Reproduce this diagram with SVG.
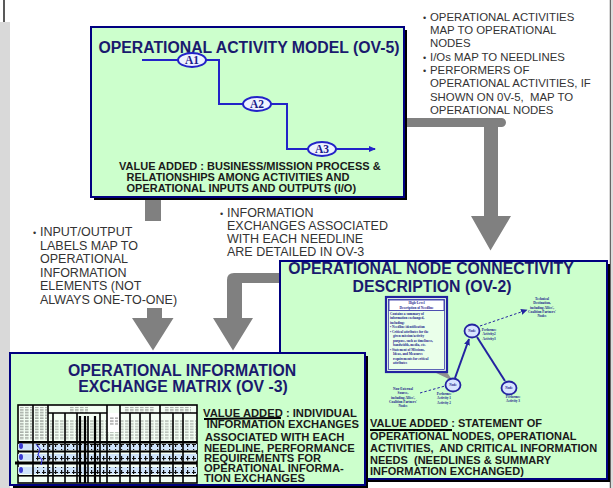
<svg xmlns="http://www.w3.org/2000/svg" width="613" height="488" viewBox="0 0 613 488">
<defs>
<style>
.box{fill:#ccffcc;stroke:#000080;stroke-width:2}
.shadow{fill:#000}
.title{font-family:"Liberation Sans",Arial,sans-serif;font-weight:bold;font-size:15.8px;fill:#1a1a6e;text-anchor:middle}
.va{font-family:"Liberation Sans",Arial,sans-serif;font-weight:bold;font-size:11px;fill:#1a1a1a;white-space:pre}
.va3{font-family:"Liberation Sans",Arial,sans-serif;font-weight:bold;font-size:10.2px;fill:#1a1a1a}
.note{font-family:"Liberation Sans",Arial,sans-serif;font-size:12.5px;fill:#333}
.note2{font-family:"Liberation Sans",Arial,sans-serif;font-size:11.4px;fill:#333;white-space:pre}
.bul{font-size:9px}
.gray{fill:#808080}
.flow{stroke:#2323c8;stroke-width:2;fill:none}
.act{fill:#eef2ff;stroke:#2323c8;stroke-width:2}
.actt{font-family:"Liberation Serif","Times New Roman",serif;font-weight:bold;font-size:11.5px;fill:#1a1a8a;text-anchor:middle}
.tiny{font-family:"Liberation Serif","Times New Roman",serif;font-weight:bold;font-size:3.4px;fill:#1a1a8a}
.tinyc{font-family:"Liberation Serif","Times New Roman",serif;font-weight:bold;font-size:3.4px;fill:#1a1a8a;text-anchor:middle}
.node{fill:#d8e4ff;stroke:#2323a0;stroke-width:1.8}
.need{stroke:#2323a0;stroke-width:2;fill:none}
.dash{stroke:#2323a0;stroke-width:1;stroke-dasharray:2.5,2;fill:none}
.ul{stroke:#000;stroke-width:2}
.col{stroke:#000;stroke-width:1.6}
</style>
<marker id="fa" markerWidth="8" markerHeight="8" refX="6" refY="4" orient="auto" markerUnits="userSpaceOnUse"><path d="M0,1 L7,4 L0,7 Z" fill="#2323c8"/></marker>
<marker id="na" markerWidth="7" markerHeight="7" refX="6" refY="3.5" orient="auto" markerUnits="userSpaceOnUse"><path d="M0,0.5 L6.5,3.5 L0,6.5 Z" fill="#2323a0"/></marker>
<pattern id="tx" width="5" height="2.8" patternUnits="userSpaceOnUse"><rect x="0" y="0.5" width="3.6" height="1" fill="#222"/></pattern>
<pattern id="rw" width="6" height="7" patternUnits="userSpaceOnUse"><rect x="1" y="1" width="1.2" height="5" fill="#111"/><rect x="0" y="3" width="4" height="1" fill="#111"/></pattern>
</defs>
<rect x="0" y="0" width="613" height="488" fill="#fff"/>
<rect x="0" y="22" width="10" height="466" fill="#d9d9d9"/>
<line x1="4" y1="0" x2="4" y2="22" stroke="#222" stroke-width="1.5"/>
<line x1="610.5" y1="0" x2="610.5" y2="488" stroke="#666" stroke-width="1.5"/>
<rect x="611.2" y="0" width="2" height="488" fill="#ddd"/>

<g id="connectors">
<path class="gray" d="M404,118 L501.5,118 A4.5,4.5 0 0 1 501.5,127 L498,127 L498,216 L511,216 L490.5,250.5 L471,216 L484,216 L484,127 L404,127 Z"/>
<rect class="gray" x="145" y="198" width="16" height="23"/>
<path class="gray" d="M147,308 L162,308 L162,318 L173.5,318 L153,350.5 L132,318 L147,318 Z"/>
<path class="gray" d="M284,273 L234,273 Q227,273 227,280 L227,318 L213,318 L233,350.5 L253,318 L242,318 L242,283 L284,283 Z"/>
</g>

<g id="ov5">
<rect class="shadow" x="94" y="30" width="313" height="170"/>
<rect class="box" x="91" y="27" width="313" height="170"/>
<text class="title" x="249" y="52.5">OPERATIONAL ACTIVITY MODEL (OV-5)</text>
<path class="flow" d="M142,60 L178,60"/>
<path class="flow" d="M206,60 L219,60 L219,104 L243,104"/>
<path class="flow" d="M271,104 L287,104 L287,149 L308,149"/>
<path class="flow" d="M336,149 L375,149" marker-end="url(#fa)"/>
<ellipse class="act" cx="192" cy="60" rx="14" ry="7"/>
<text class="actt" x="192" y="64">A1</text>
<ellipse class="act" cx="257" cy="104" rx="14" ry="7"/>
<text class="actt" x="257" y="108">A2</text>
<ellipse class="act" cx="322" cy="149" rx="14" ry="7"/>
<text class="actt" x="322" y="153">A3</text>
<text class="va" x="119" y="170">VALUE ADDED : BUSINESS/MISSION PROCESS &amp;</text>
<text class="va" x="126.5" y="181">RELATIONSHIPS AMONG ACTIVITIES AND</text>
<text class="va" x="126.5" y="192">OPERATIONAL INPUTS AND OUTPUTS (I/O)</text>
</g>

<g id="note-ov5-ov2">
<text class="note2" x="423" y="20.7"><tspan class="bul">•</tspan><tspan x="430">OPERATIONAL ACTIVITIES</tspan></text>
<text class="note2" x="430" y="34">MAP TO OPERATIONAL</text>
<text class="note2" x="430" y="47.3">NODES</text>
<text class="note2" x="423" y="60.6"><tspan class="bul">•</tspan><tspan x="430">I/Os MAP TO NEEDLINES</tspan></text>
<text class="note2" x="423" y="74"><tspan class="bul">•</tspan><tspan x="430">PERFORMERS OF</tspan></text>
<text class="note2" x="430" y="87.3">OPERATIONAL ACTIVITIES, IF</text>
<text class="note2" x="430" y="100.6">SHOWN ON 0V-5,  MAP TO</text>
<text class="note2" x="430" y="114">OPERATIONAL NODES</text>
</g>

<g id="note-ov5-ov3">
<text class="note" x="33" y="236"><tspan class="bul">•</tspan><tspan x="40">INPUT/OUTPUT</tspan></text>
<text class="note" x="40" y="249.6">LABELS MAP TO</text>
<text class="note" x="40" y="263.2">OPERATIONAL</text>
<text class="note" x="40" y="276.8">INFORMATION</text>
<text class="note" x="40" y="290.4">ELEMENTS (NOT</text>
<text class="note" x="40" y="304">ALWAYS ONE-TO-ONE)</text>
</g>

<g id="note-ov2-ov3">
<text class="note" x="220" y="216.7"><tspan class="bul">•</tspan><tspan x="227">INFORMATION</tspan></text>
<text class="note" x="227" y="229.8">EXCHANGES ASSOCIATED</text>
<text class="note" x="227" y="242.9">WITH EACH NEEDLINE</text>
<text class="note" x="227" y="256">ARE DETAILED IN OV-3</text>
</g>

<g id="ov2">
<rect class="shadow" x="283" y="264" width="327" height="218"/>
<rect class="box" x="280" y="261" width="327" height="218"/>
<text class="title" x="431" y="274">OPERATIONAL NODE CONNECTIVITY</text>
<text class="title" x="432" y="292">DESCRIPTION (OV-2)</text>
<g id="ov2-needline-box">
<polygon points="432,371 446,371 453,381" fill="#909090"/>
<rect x="386" y="297" width="61" height="75" fill="#eaffea" stroke="#2323a0" stroke-width="2.2"/>
<rect x="388.5" y="299.5" width="56" height="70" fill="none" stroke="#2323a0" stroke-width="0.7"/>
<rect x="389" y="300" width="55" height="10.5" fill="#fff" stroke="#2323a0" stroke-width="0.8"/>
<text class="tinyc" x="416.5" y="304.3">High-Level</text>
<text class="tinyc" x="416.5" y="309">Description of Needline</text>
<text class="tiny" x="390" y="314.5">Contains a summary of</text>
<text class="tiny" x="390" y="319">information exchanged,</text>
<text class="tiny" x="390" y="323.5">including:</text>
<text class="tiny" x="390" y="328">• Needline identification</text>
<text class="tiny" x="390" y="332.5">• Critical attributes for the</text>
<text class="tiny" x="393" y="337">given mission/activity</text>
<text class="tiny" x="393" y="341.5">purpose, such as timeliness,</text>
<text class="tiny" x="393" y="346">bandwidth, media, etc.</text>
<text class="tiny" x="390" y="350.5">• Statement of Missions,</text>
<text class="tiny" x="393" y="355">Ideas, and Measures</text>
<text class="tiny" x="393" y="359.5">requirements for critical</text>
<text class="tiny" x="393" y="364">attributes</text>
</g>
<path class="need" d="M455,378 L469,339" marker-end="url(#na)"/>
<path class="need" d="M477,337 L505,381"/>
<path class="dash" d="M420,393 L445,386"/>
<path class="dash" d="M480,326 L527,310" marker-end="url(#na)"/>
<g id="node-a"><ellipse class="node" cx="472" cy="331" rx="7.5" ry="6.5"/><text class="tinyc" x="472" y="332">Node</text></g>
<g id="node-b"><ellipse class="node" cx="453" cy="385" rx="7.5" ry="6.5"/><text class="tinyc" x="453" y="386">Node</text></g>
<g id="node-c"><ellipse class="node" cx="509" cy="388" rx="7.5" ry="6.5"/><text class="tinyc" x="509" y="389">Node</text></g>
<text class="tinyc" x="542" y="300">Technical</text>
<text class="tinyc" x="542" y="304.3">Destination,</text>
<text class="tinyc" x="542" y="308.6">including Allies',</text>
<text class="tinyc" x="542" y="312.9">Coalition Partners'</text>
<text class="tinyc" x="542" y="317.2">Nodes</text>
<text class="tinyc" x="489" y="331">Performs:</text>
<text class="tinyc" x="489" y="335.3">Activity2</text>
<text class="tinyc" x="489" y="339.6">Activity3</text>
<text class="tinyc" x="403" y="390">Non-External</text>
<text class="tinyc" x="403" y="394.3">Source,</text>
<text class="tinyc" x="403" y="398.6">including Allies',</text>
<text class="tinyc" x="403" y="402.9">Coalition Partners'</text>
<text class="tinyc" x="403" y="407.2">Nodes</text>
<text class="tinyc" x="444" y="395">Performs:</text>
<text class="tinyc" x="444" y="399.3">Activity 1</text>
<text class="tinyc" x="444" y="403.6">Activity 2</text>
<text class="tinyc" x="513" y="398">Performs:</text>
<text class="tinyc" x="513" y="402.3">Activity 3</text>
<text class="va" x="370" y="427">VALUE ADDED : STATEMENT OF</text>
<line class="ul" x1="370" y1="430" x2="452" y2="430"/>
<text class="va" x="370" y="439.5">OPERATIONAL NODES, OPERATIONAL</text>
<text class="va" x="370" y="452">ACTIVITIES,  AND CRITICAL INFORMATION</text>
<text class="va" x="370" y="463.5">NEEDS  (NEEDLINES &amp; SUMMARY</text>
<text class="va" x="370" y="475">INFORMATION EXCHANGED)</text>
</g>

<g id="ov3">
<rect class="shadow" x="13" y="356" width="355" height="132"/>
<rect class="box" x="10" y="353" width="355" height="132"/>
<text class="title" x="182" y="376">OPERATIONAL INFORMATION</text>
<text class="title" x="183" y="391.5">EXCHANGE MATRIX (OV -3)</text>
<g id="ov3-matrix">
<rect x="18" y="405" width="179" height="78" fill="#f4fff4" stroke="#000" stroke-width="1.6"/>
<rect x="20" y="407" width="12" height="33" fill="url(#tx)" opacity="0.6"/>
<rect x="35" y="407" width="12" height="33" fill="url(#tx)" opacity="0.6"/>
<rect x="70" y="407" width="18" height="6" fill="url(#tx)" opacity="0.6"/>
<rect x="124" y="407" width="30" height="6" fill="url(#tx)" opacity="0.6"/>
<rect x="165" y="407" width="26" height="6" fill="url(#tx)" opacity="0.6"/>
<rect x="49" y="420" width="147" height="20" fill="url(#tx)" opacity="0.45"/>
<rect x="107.5" y="413" width="12" height="19" fill="#fff"/>
<rect x="109" y="417" width="9" height="8" fill="url(#tx)" opacity="0.6"/>
<line class="col" x1="48" y1="413" x2="107" y2="413"/>
<line class="col" x1="120" y1="413" x2="197" y2="413"/>
<rect x="18" y="441" width="179" height="2.5" fill="#000"/>
<rect x="18" y="444" width="179" height="6" fill="#cfe4fb"/>
<rect x="34" y="444" width="163" height="6" fill="url(#rw)"/>
<rect x="18" y="450.5" width="179" height="2" fill="#000"/>
<rect x="18" y="454" width="179" height="6.5" fill="#cfe4fb"/>
<rect x="34" y="454" width="163" height="6.5" fill="url(#rw)"/>
<rect x="15" y="461.5" width="182" height="3" fill="#000"/>
<rect x="18" y="467" width="179" height="7" fill="#cfe4fb"/>
<rect x="34" y="467" width="163" height="7" fill="url(#rw)"/>
<rect x="18" y="475" width="179" height="1.6" fill="#000"/>
<g stroke="#000" stroke-width="1.6">
<line x1="33" y1="405" x2="33" y2="483"/>
<line x1="48" y1="405" x2="48" y2="483"/>
<line x1="53" y1="413" x2="53" y2="483"/>
<line x1="65" y1="413" x2="65" y2="483"/>
<line x1="77" y1="413" x2="77" y2="483"/>
<line x1="80" y1="416" x2="80" y2="483" stroke-width="2.2"/>
<line x1="85" y1="416" x2="85" y2="483" stroke-width="2.2"/>
<line x1="88" y1="416" x2="88" y2="483"/>
<line x1="95" y1="416" x2="95" y2="483" stroke-width="2.2"/>
<line x1="100" y1="413" x2="100" y2="483"/>
<line x1="107" y1="405" x2="107" y2="483"/>
<line x1="120" y1="405" x2="120" y2="483"/>
<line x1="130" y1="413" x2="130" y2="483"/>
<line x1="140" y1="413" x2="140" y2="483"/>
<line x1="150" y1="413" x2="150" y2="483"/>
<line x1="160" y1="405" x2="160" y2="483"/>
<line x1="173" y1="413" x2="173" y2="483"/>
<line x1="183" y1="413" x2="183" y2="483"/>
</g>
<ellipse cx="21" cy="446" rx="2" ry="3" fill="#3a3ad0"/>
<ellipse cx="21" cy="457" rx="2" ry="3" fill="#3a3ad0"/>
<ellipse cx="21" cy="470" rx="2" ry="3" fill="#3a3ad0"/>
<path d="M36,444 L40,449 L38,455 L42,460 L41,465" stroke="#3a3ad0" stroke-width="1.2" fill="none"/>
</g>
<line class="ul" x1="204" y1="419" x2="281" y2="418"/>
<g transform="matrix(1.1,0,0,1,203,0)">
<text class="va3" x="0" y="416.7">VALUE ADDED : INDIVIDUAL</text>
<text class="va3" x="3.2" y="428.3">INFORMATION EXCHANGES</text>
<text class="va3" x="1.8" y="440.7">ASSOCIATED WITH EACH</text>
<text class="va3" x="0.9" y="451.7">NEEDLINE, PERFORMANCE</text>
<text class="va3" x="0.9" y="462.3">REQUIREMENTS FOR</text>
<text class="va3" x="0.9" y="472.5">OPERATIONAL INFORMA-</text>
<text class="va3" x="0.9" y="482.5">TION EXCHANGES</text>
</g>
</g>
</svg>
